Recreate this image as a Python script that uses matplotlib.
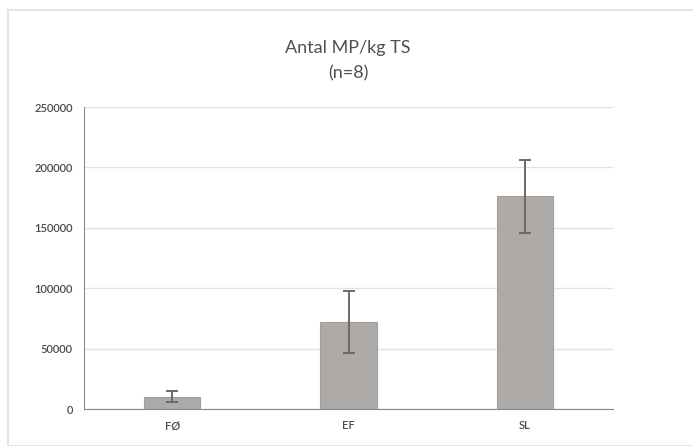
import matplotlib
matplotlib.use("Agg")
import matplotlib.pyplot as plt
from matplotlib.patches import Rectangle

categories = ["FØ", "EF", "SL"]
values = [10000, 72000, 176000]
errors = [4500, 26000, 30000]
yticks = [0, 50000, 100000, 150000, 200000, 250000]

plt.rcParams['font.family'] = ['Lato', 'DejaVu Sans']

fig = plt.figure(figsize=(6.93, 4.46), dpi=100)
# light chart-area border
fig.patches.append(Rectangle((8/693, 0), 1, 1 - 10/446, transform=fig.transFigure,
                             fill=False, edgecolor="#e4e4e4", linewidth=1.5))

ax = fig.add_axes([84/693, 1 - 409/446, 529/693, 302/446])
x = range(len(categories))
ax.bar(x, values, width=0.32, color="#adaaa7", edgecolor="#a19e9b", linewidth=0.8, zorder=2)
ax.errorbar(x, values, yerr=errors, fmt="none", ecolor="#6a6a6a", elinewidth=1.4,
            capsize=4, capthick=1.4, zorder=3)

ax.set_xlim(-0.5, 2.5)
ax.set_ylim(0, 250000)
ax.set_yticks(yticks)
ax.set_yticklabels([str(v) for v in yticks])
ax.set_xticks(list(x))
ax.set_xticklabels(categories)
ax.grid(axis="y", color="#e2e2e2", linewidth=1, zorder=0)
ax.set_axisbelow(True)
for s in ["top", "right"]:
    ax.spines[s].set_visible(False)
ax.spines["left"].set_color("#8a8a8a")
ax.spines["bottom"].set_color("#8a8a8a")
ax.tick_params(axis="both", length=0, labelsize=8, colors="#4a4a4a", pad=8)
for lbl in ax.get_xticklabels() + ax.get_yticklabels():
    lbl.set_fontweight("semibold")

fig.text(348/693, 1 - 48/446, "Antal MP/kg TS", ha="center", va="center", fontsize=13, color="#505050")
fig.text(348/693, 1 - 73/446, "(n=8)", ha="center", va="center", fontsize=13, color="#505050")

fig.savefig("out.png", dpi=100)
